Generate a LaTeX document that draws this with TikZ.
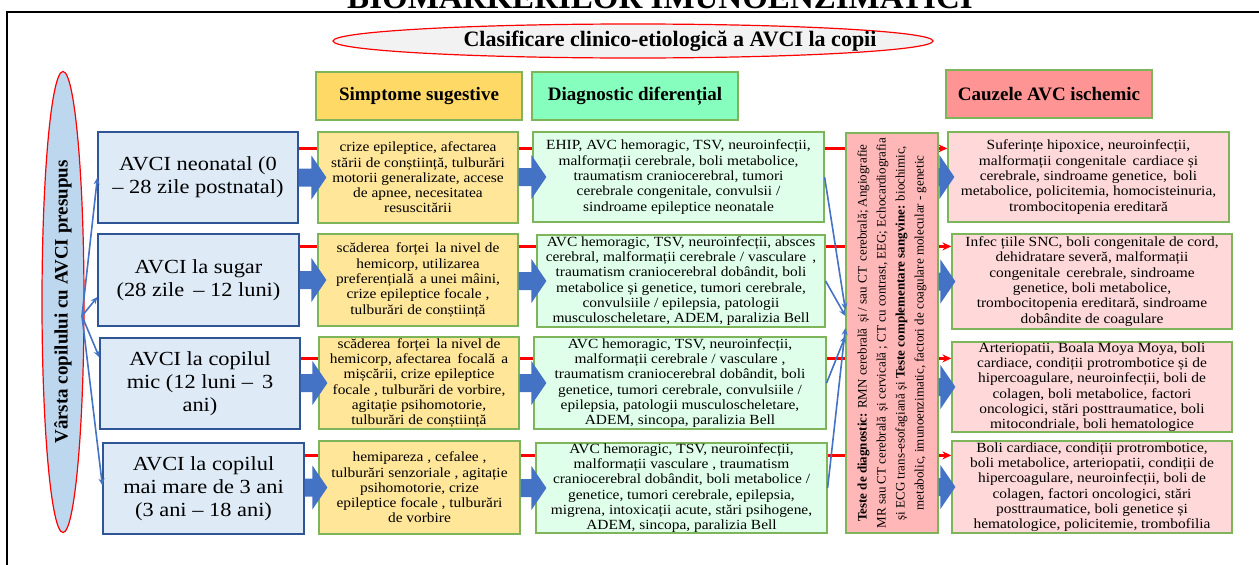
\documentclass[tikz,border=0pt]{standalone}
\usepackage{fontspec}
\setmainfont{Liberation Serif}
\newfontfamily\boxfont[FakeStretch=1.1]{Liberation Serif}
\newfontfamily\agefont[FakeStretch=1.12]{Liberation Serif}
\usetikzlibrary{shapes}
\usetikzlibrary{arrows.meta}
\usetikzlibrary{calc,positioning,backgrounds}

\definecolor{boxline}{HTML}{7EB55A}
\definecolor{ageline}{HTML}{2F5597}
\definecolor{agefill}{HTML}{DEEBF7}
\definecolor{symptfill}{HTML}{FFE699}
\definecolor{difffill}{HTML}{DFFFEA}
\definecolor{causefill}{HTML}{FFD9D9}
\definecolor{testfill}{HTML}{FFB7B7}
\definecolor{hsympt}{HTML}{FFD966}
\definecolor{hdiff}{HTML}{86FFBE}
\definecolor{hcause}{HTML}{FF9494}
\definecolor{ellgray}{HTML}{F2F2F2}
\definecolor{ellblue}{HTML}{BDD7EE}
\definecolor{arrowblue}{HTML}{4472C4}

\begin{document}
\begin{tikzpicture}[x=1pt,y=-1pt]
	\tikzstyle{box}=[draw=boxline, line width=1.2pt, rectangle, align=center, inner sep=0pt,
	font=\boxfont\fontsize{14}{15.3}\selectfont]
	\tikzstyle{agebox}=[box, draw=ageline, fill=agefill, font=\agefont\fontsize{20}{23}\selectfont]
	\tikzstyle{sympt}=[box, fill=symptfill]
	\tikzstyle{diff}=[box, fill=difffill]
	\tikzstyle{cause}=[box, fill=causefill]
	\tikzstyle{head}=[box, font=\fontsize{19}{21}\selectfont\bfseries, minimum width=206pt, minimum height=48pt]
	\tikzstyle{oval}=[ellipse, draw=red, line width=1.2pt, inner sep=0pt]
	\tikzstyle{thin}=[draw=arrowblue, line width=1.6pt, -{Stealth[length=7pt,width=6pt]}]
	\tikzstyle{redline}=[draw=red, line width=2.2pt, -{Stealth[length=9pt,width=8pt]}]

	\useasboundingbox (0,0) rectangle (1259,565);
	\draw[line width=2.5pt] (7,600) |- (1300,12);
	\node[anchor=base, font=\fontsize{33}{35}\selectfont\bfseries] (title) at (660,8) {BIOMARKERILOR IMUNOENZIMATICI};

	\node[oval, fill=ellgray, minimum width=600pt, minimum height=34pt] (clas) at (633,41) {};
	\node[font=\fontsize{22}{24}\selectfont\bfseries] (clastext) at (670,41) {Clasificare clinico-etiologică a AVCI la copii};
	\node[oval, fill=ellblue, minimum width=42pt, minimum height=461pt] (age) at (63,302) {};
	\node[rotate=90, font=\fontsize{19}{21}\selectfont\bfseries] (agetext) at (age) {Vârsta copilului cu AVCI presupus};
	\coordinate (vs) at (82,316);

	% headers
	\node[head, fill=hsympt] (hs) at (419,96) {Simptome sugestive};
	\node[head, fill=hdiff] (hd) at (635,96) {Diagnostic diferențial};
	\node[head, fill=hcause] (hc) at (1049,94) {Cauzele AVC ischemic};

	% age groups
	\node[agebox, minimum width=200pt, minimum height=91pt] (a1) at (198,177.5) {AVCI neonatal (0\\– 28 zile postnatal)};
	\node[agebox, minimum width=201pt, minimum height=92pt] (a2) at (198.5,280) {AVCI la sugar\\(28 zile\, – 12 luni)};
	\node[agebox, minimum width=200pt, minimum height=91pt] (a3) at (200,383.5) {AVCI la copilul\\mic (12 luni – \,3\\ani)};
	\node[agebox, minimum width=201pt, minimum height=91pt] (a4) at (203.5,488.5) {AVCI la copilul\\mai mare de 3 ani\\(3 ani – 18 ani)};

	% symptoms
	\node[sympt, minimum width=200pt, minimum height=91pt] (s1) at (418,177.5) {crize epileptice, afectarea\\stării de conștiință, tulburări\\motorii generalizate, accese\\de apnee, necesitatea\\resuscitării};
	\node[sympt, minimum width=200pt, minimum height=92pt] (s2) at (418,280) {scăderea \,forței \,la nivel de\\hemicorp, utilizarea\\preferențială \,a unei mâini,\\crize epileptice focale ,\\tulburări de conștiință};
	\node[sympt, minimum width=200pt, minimum height=92pt] (s3) at (419,383) {scăderea \,forței \,la nivel de\\hemicorp, afectarea \,focală \,a\\mișcării, crize epileptice\\focale , tulburări de vorbire,\\agitație psihomotorie,\\tulburări de conștiință};
	\node[sympt, minimum width=201pt, minimum height=93pt] (s4) at (419.5,487.5) {hemipareza , cefalee ,\\tulburări senzoriale , agitație\\psihomotorie, crize\\epileptice focale , tulburări\\de vorbire};

	% differential diagnosis
	\node[diff, minimum width=291pt, minimum height=90pt] (d1) at (678.5,177) {EHIP, AVC hemoragic, TSV, neuroinfecții,\\malformații cerebrale, boli metabolice,\\traumatism craniocerebral, tumori\\cerebrale congenitale, convulsii /\\sindroame epileptice neonatale};
	\node[diff, minimum width=288pt, minimum height=92pt] (d2) at (681,281) {AVC hemoragic, TSV, neuroinfecții, absces\\cerebral, malformații cerebrale / vasculare \,,\\traumatism craniocerebral dobândit, boli\\metabolice și genetice, tumori cerebrale,\\convulsiile / epilepsia, patologii\\musculoscheletare, ADEM, paralizia Bell};
	\node[diff, minimum width=292pt, minimum height=92pt] (d3) at (680,383) {AVC hemoragic, TSV, neuroinfecții,\\malformații cerebrale / vasculare ,\\traumatism craniocerebral dobândit, boli\\genetice, tumori cerebrale, convulsiile /\\epilepsia, patologii musculoscheletare,\\ADEM, sincopa, paralizia Bell};
	\node[diff, minimum width=291pt, minimum height=90pt] (d4) at (681.5,488) {AVC hemoragic, TSV, neuroinfecții,\\malformații vasculare , traumatism\\craniocerebral dobândit, boli metabolice /\\genetice, tumori cerebrale, epilepsia,\\migrena, intoxicații acute, stări psihogene,\\ADEM, sincopa, paralizia Bell};

	% tests
	\node[box, fill=testfill, minimum width=92pt, minimum height=400pt] (tests) at (892,333) {};
	\node[rotate=90, align=center, font=\fontsize{13}{19}\selectfont] (testtext) at (tests) {\textbf{Teste de diagnostic:} RMN cerebrală \,și / sau CT \,cerebrală; Angiografie\\MR sau CT cerebrală \,și cervicală ; CT cu contrast, EEG; Echocardiografia\\și ECG trans-esofagiană și \textbf{Teste complementare sangvine:} biochimic,\\metabolic, imunoenzimatic, factori de coagulare molecular - genetic};

	% causes
	\node[cause, minimum width=281pt, minimum height=90pt] (c1) at (1088.5,177) {Suferințe hipoxice, neuroinfecții,\\malformații congenitale \,cardiace și\\cerebrale, sindroame genetice, \,boli\\metabolice, policitemia, homocisteinuria,\\trombocitopenia ereditară};
	\node[cause, minimum width=280pt, minimum height=95pt] (c2) at (1092,281.5) {Infec țiile SNC, boli congenitale de cord,\\dehidratare severă, malformații\\congenitale \,cerebrale, sindroame\\genetice, boli metabolice,\\trombocitopenia ereditară, sindroame\\dobândite de coagulare};
	\node[cause, minimum width=280pt, minimum height=90pt] (c3) at (1092,387) {Arteriopatii, Boala Moya Moya, boli\\cardiace, condiții protrombotice și de\\hipercoagulare, neuroinfecții, boli de\\colagen, boli metabolice, factori\\oncologici, stări posttraumatice, boli\\mitocondriale, boli hematologice};
	\node[cause, minimum width=280pt, minimum height=92pt] (c4) at (1092,487) {Boli cardiace, condiții protrombotice,\\boli metabolice, arteriopatii, condiții de\\hipercoagulare, neuroinfecții, boli de\\colagen, factori oncologici, stări\\posttraumatice, boli genetice și\\hematologice, policitemie, trombofilia};

	% red row lines behind the boxes
	\begin{scope}[on background layer]
	\draw[redline] ([yshift=-17pt]a1.north east) coordinate (r1) -- (r1 -| c1.west);
	\draw[redline] ([yshift=-13pt]a2.north east) coordinate (r2) -- (r2 -| c2.west);
	\draw[redline] ([yshift=-21pt]a3.north east) coordinate (r3) -- (r3 -| c3.west);
	\draw[redline] ([yshift=-13pt]a4.north east) coordinate (r4) -- (r4 -| c4.west);
	\end{scope}

	% block arrows
	\foreach \src/\dst/\tip in {a1/s1/9pt,a2/s2/9pt,a3/s3/9pt,a4/s4/9pt,s1/d1/14pt,s2/d2/10pt,s3/d3/13pt,s4/d4/11pt,tests/c1/7pt,tests/c2/4pt,tests/c3/4pt,tests/c4/4pt}
	\fill[arrowblue] let \p1=(\src.east), \p2=(\dst.west), \p3=(\dst.center) in
		(\x1,\y3+9pt) -- (\x2+\tip-15pt,\y3+9pt) -- (\x2+\tip-15pt,\y3+22pt) -- (\x2+\tip,\y3)
		-- (\x2+\tip-15pt,\y3-22pt) -- (\x2+\tip-15pt,\y3-9pt) -- (\x1,\y3-9pt) -- cycle;

	% thin arrows
	\draw[thin] (vs) -- (a1.west);
	\draw[thin] (vs) -- ([yshift=-17pt]a2.west);
	\draw[thin] (vs) -- ([yshift=26pt]a3.west);
	\draw[thin] (vs) -- ([yshift=3pt]a4.west);
	\draw[thin] (d1.east) -- ([yshift=23pt]tests.west);
	\draw[thin] (d2.east) -- ([yshift=17pt]tests.west);
	\draw[thin] (d3.east) -- ([yshift=-3pt]tests.west);
	\draw[thin] (d4.east) -- ([yshift=5pt]tests.west);
\end{tikzpicture}
\end{document}
